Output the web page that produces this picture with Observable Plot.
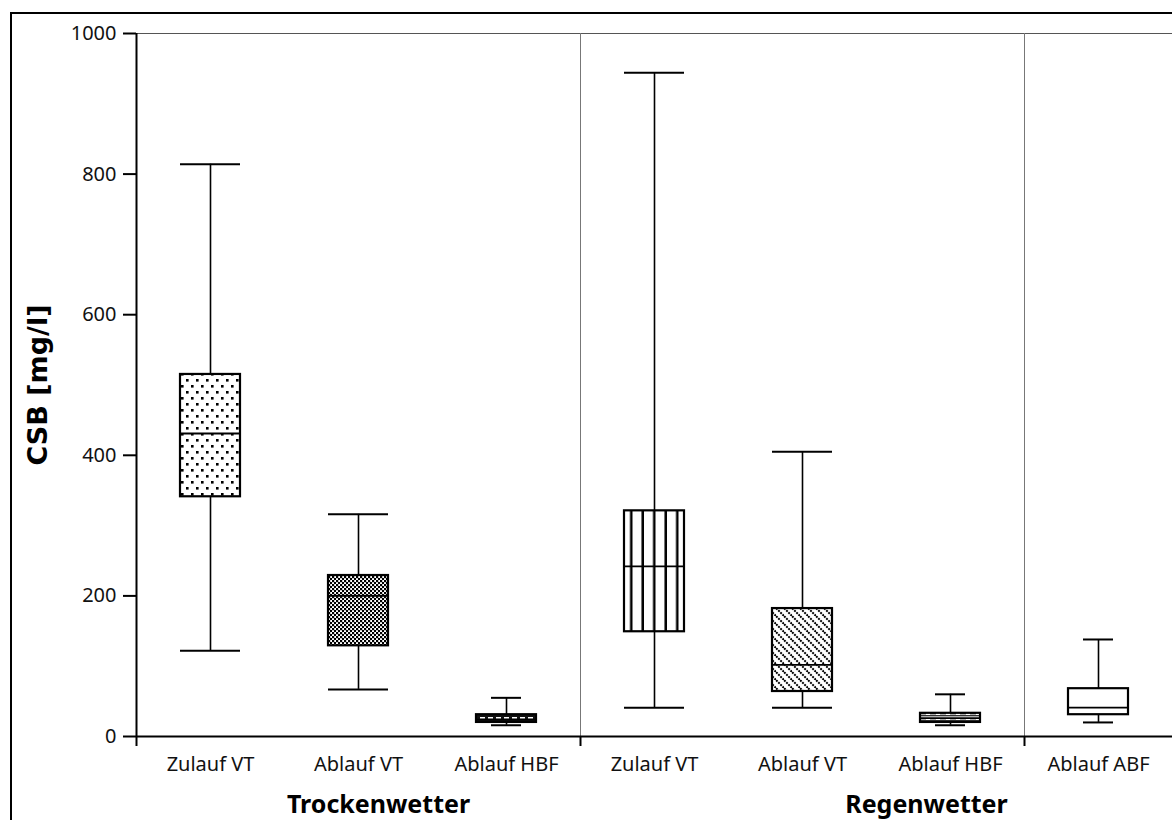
<!DOCTYPE html>
<html>
<head>
<meta charset="utf-8">
<script src="https://cdn.jsdelivr.net/npm/d3@7"></script>
<script src="https://cdn.jsdelivr.net/npm/@observablehq/plot@0.6"></script>
<style>
  html, body { margin: 0; padding: 0; background: #fff; overflow: hidden; }
  #wrap { position: relative; width: 1172px; height: 820px; }
  #wrap svg { position: absolute; left: 0; top: 0; }
  #frame { position: absolute; left: 10px; top: 12px; width: 1300px; height: 1000px;
           border-left: 2px solid #000; border-top: 2px solid #000; pointer-events: none; }
</style>
</head>
<body>
<div id="wrap"><div id="frame"></div></div>
<script>
// ---- data ----
const ids = ["T1", "T2", "T3", "R1", "R2", "R3", "R4"];
const names = ["Zulauf VT", "Ablauf VT", "Ablauf HBF", "Zulauf VT", "Ablauf VT", "Ablauf HBF", "Ablauf ABF"];
const groups = ["Trockenwetter", "Trockenwetter", "Trockenwetter", "Regenwetter", "Regenwetter", "Regenwetter", "Regenwetter"];
const whiskerLow  = [122, 67, 16, 41, 41, 16, 20];
const q1          = [341, 129, 20, 149, 64, 20, 31];
const median      = [431, 200, 24, 242, 102, 26, 41];
const q3          = [515, 229, 31, 321, 182, 33, 68];
const whiskerHigh = [814, 316, 55, 944, 405, 60, 138];
const yTicks = [0, 200, 400, 600, 800, 1000];
const groupLabels = ["Trockenwetter", "Regenwetter"];
const yLabel = "CSB [mg/l]";

// ---- styles ----
const patterns = ["url(#pDots)", "url(#pCheck)", "url(#pDashA)", "url(#pVert)", "url(#pDiag)", "url(#pDashB)", "white"];
const capInset = [44, 44, 59, 44, 44, 59, 59];

const data = ids.map((id, i) => ({
  id, name: names[i], group: groups[i],
  lo: whiskerLow[i], q1: q1[i], med: median[i], q3: q3[i], hi: whiskerHigh[i],
  fill: patterns[i], capInset: capInset[i]
}));

const W = 1172, H = 820, mL = 136, mR = 0, mT = 33, mB = 84;
const bw = (W - mL - mR) / ids.length;
const nameOf = Object.fromEntries(ids.map((id, i) => [id, names[i]]));

const marks = [
  Plot.ruleY([1000], {stroke: "#555", strokeWidth: 1}),
  Plot.ruleX(["R1", "R4"], {x: d => d, dx: -bw / 2, y1: 0, y2: 1000, stroke: "#777", strokeWidth: 1}),
  Plot.ruleX(["T1", "R1", "R4"], {x: d => d, dx: -bw / 2, y1: 0, y2: 0, insetBottom: -10, stroke: "#000", strokeWidth: 2}),
  Plot.ruleX(["T1"], {x: d => d, dx: -bw / 2, y1: 0, y2: 1000, stroke: "#000", strokeWidth: 2}),
  Plot.ruleY([0], {stroke: "#000", strokeWidth: 2}),
  Plot.ruleX(data, {x: "id", y1: "lo", y2: "hi", stroke: "#000", strokeWidth: 1.6}),
];
for (const d of data) {
  marks.push(Plot.tickY([d], {x: "id", y: "hi", stroke: "#000", strokeWidth: 2, insetLeft: d.capInset, insetRight: d.capInset}));
  marks.push(Plot.tickY([d], {x: "id", y: "lo", stroke: "#000", strokeWidth: 2, insetLeft: d.capInset, insetRight: d.capInset}));
  marks.push(Plot.barY([d], {x: "id", y1: "q1", y2: "q3", fill: d.fill, stroke: "#000", strokeWidth: 2.2, insetLeft: 44, insetRight: 44}));
  marks.push(Plot.tickY([d], {x: "id", y: "med", stroke: "#000", strokeWidth: 1.8, insetLeft: 44, insetRight: 44}));
}
marks.push(
  Plot.axisY({ticks: yTicks, tickFormat: "d", tickSize: 13, tickPadding: 7, fontSize: 20, label: null, stroke: "#000", strokeWidth: 2}),
  Plot.axisX({tickSize: 0, tickPadding: 20, fontSize: 20, tickFormat: d => nameOf[d], label: null}),
  Plot.text([yLabel], {frameAnchor: "left", textAnchor: "middle", dx: -98, rotate: -90, fontSize: 27, fontWeight: "bold", fontFamily: "'DejaVu Sans', sans-serif", text: d => d, fill: "#000"}),
  Plot.text([{x: "T2", t: groupLabels[0]}], {x: "x", y: 0, text: "t", dx: 20, dy: 68, fontSize: 25, fontWeight: "bold", fill: "#000"}),
  Plot.text([{x: "R3", t: groupLabels[1]}], {x: "x", y: 0, text: "t", dx: -24, dy: 68, fontSize: 25, fontWeight: "bold", fill: "#000"})
);

const chart = Plot.plot({
  width: W, height: H,
  marginLeft: mL, marginRight: mR, marginTop: mT, marginBottom: mB,
  style: {fontFamily: "'Noto Sans', sans-serif", color: "#111", background: "transparent", overflow: "visible"},
  x: {type: "band", domain: ids, padding: 0, axis: null},
  y: {domain: [0, 1000], axis: null},
  marks
});

const defs = `
<defs>
  <pattern id="pDots" patternUnits="userSpaceOnUse" width="10" height="12">
    <rect width="10" height="12" fill="#fff"/>
    <rect x="1" y="1" width="2.6" height="2.6" fill="#000"/>
    <rect x="6" y="7" width="2.6" height="2.6" fill="#000"/>
  </pattern>
  <pattern id="pCheck" patternUnits="userSpaceOnUse" width="4" height="4">
    <rect width="4" height="4" fill="#fff"/>
    <rect x="0" y="0" width="2.2" height="2.2" fill="#000"/>
    <rect x="2" y="2" width="2.2" height="2.2" fill="#000"/>
  </pattern>
  <pattern id="pDashA" patternUnits="userSpaceOnUse" width="8" height="5">
    <rect width="8" height="5" fill="#111"/>
    <rect x="0" y="2" width="5" height="1.6" fill="#fff"/>
  </pattern>
  <pattern id="pDashB" patternUnits="userSpaceOnUse" width="10" height="5">
    <rect width="10" height="5" fill="#fff"/>
    <rect x="0" y="0" width="10" height="1.4" fill="#333"/>
    <rect x="0" y="3" width="6" height="1.4" fill="#333"/>
  </pattern>
  <pattern id="pVert" patternUnits="userSpaceOnUse" width="11.5" height="10">
    <rect width="11.5" height="10" fill="#fff"/>
    <rect x="9" y="0" width="2.8" height="10" fill="#000"/>
  </pattern>
  <pattern id="pDiag" patternUnits="userSpaceOnUse" width="8" height="8">
    <rect width="8" height="8" fill="#fff"/>
    <path d="M-2,-2 L10,10 M-2,6 L2,10 M6,-2 L10,2" stroke="#000" stroke-width="2" stroke-dasharray="2,1"/>
  </pattern>
</defs>`;
chart.insertAdjacentHTML("afterbegin", defs);
document.getElementById("wrap").prepend(chart);
</script>
</body>
</html>
